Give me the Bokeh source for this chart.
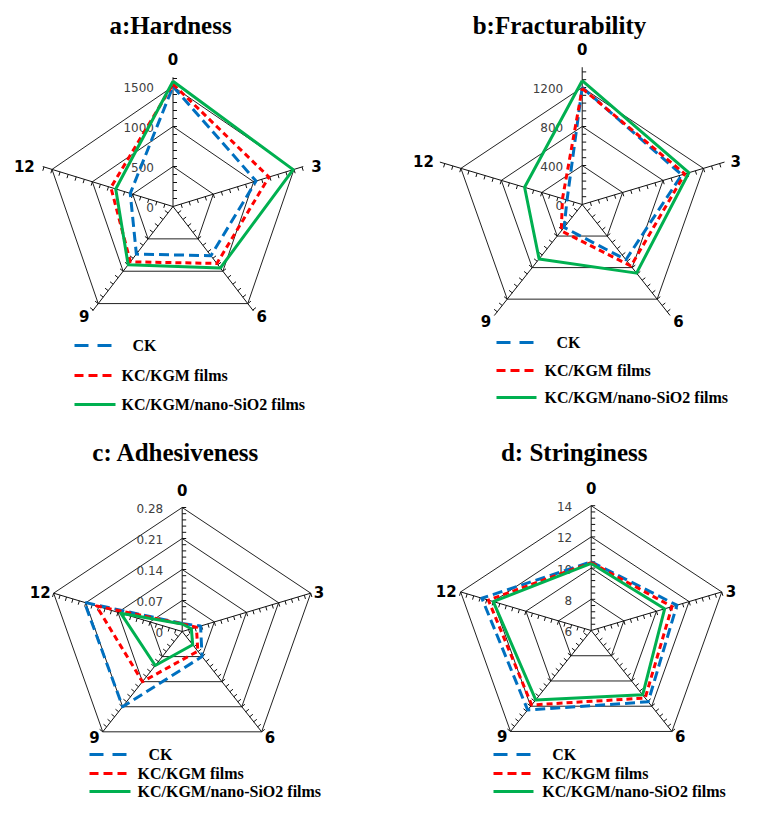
import numpy as np
from bokeh.plotting import figure
from bokeh.models import Range1d
from bokeh.embed import file_html
from bokeh.resources import INLINE
from bokeh.core.properties import value

# ---------------- data ----------------
categories = ["0", "3", "6", "9", "12"]
series_names = ["CK", "KC/KGM films", "KC/KGM/nano-SiO2 films"]

hardness_ck = [1500, 1030, 760, 735, 530]
hardness_kc = [1530, 1190, 880, 855, 770]
hardness_si = [1565, 1490, 950, 900, 710]

fract_ck = [1200, 985, 700, 290, 150]
fract_kc = [1190, 1015, 780, 335, 195]
fract_si = [1270, 1055, 870, 690, 570]

adh_ck = [0.018, 0.040, 0.070, 0.210, 0.213]
adh_kc = [0.017, 0.031, 0.055, 0.140, 0.187]
adh_si = [0.017, 0.020, 0.037, 0.095, 0.134]

str_ck = [10.4, 11.25, 11.65, 12.3, 12.7]
str_kc = [10.35, 10.95, 11.35, 11.9, 12.3]
str_si = [10.3, 10.5, 11.1, 11.5, 12.0]

hardness_ticks = [0, 500, 1000, 1500]
hardness_tick_labels = ["0", "500", "1000", "1500"]
fract_ticks = [0, 400, 800, 1200]
fract_tick_labels = ["0", "400", "800", "1200"]
adh_ticks = [0, 0.07, 0.14, 0.21, 0.28]
adh_tick_labels = ["0", "0.07", "0.14", "0.21", "0.28"]
str_ticks = [6, 8, 10, 12, 14]
str_tick_labels = ["6", "8", "10", "12", "14"]

titles = ["a:Hardness", "b:Fracturability", "c: Adhesiveness", "d: Stringiness"]

# ---------------- styles / layout ----------------
COLORS = ["#0070C0", "#FF0000", "#00B050"]
DASHES = ["10 5", "6 4", "solid"]
LEG_DASHES = ["14 9", "9 5", "solid"]

panels = [
    dict(data=[hardness_ck, hardness_kc, hardness_si], ticks=hardness_ticks,
         labels=hardness_tick_labels, cx=172.5, cy=206, pxu=40 / 500, stretch=1.06,
         vmin=0, vmax=1615, minor=100, title_xy=(170, 25), pad=8,
         leg_y=[345, 375, 404], leg_x=(74, 115), leg_tx=[132, 121, 121]),
    dict(data=[fract_ck, fract_kc, fract_si], ticks=fract_ticks,
         labels=fract_tick_labels, cx=581.7, cy=204, pxu=39 / 400, stretch=1.09,
         vmin=0, vmax=1408, minor=80, title_xy=(559, 25), pad=6,
         leg_y=[342, 370, 397], leg_x=(496, 536), leg_tx=[556, 544, 544]),
    dict(data=[adh_ck, adh_kc, adh_si], ticks=adh_ticks,
         labels=adh_tick_labels, cx=181.7, cy=631, pxu=31 / 0.07, stretch=1.09,
         vmin=0, vmax=0.28, minor=0.014, title_xy=(175.5, 452), pad=3,
         leg_y=[754, 773, 791], leg_x=(89, 130), leg_tx=[148, 137, 137]),
    dict(data=[str_ck, str_kc, str_si], ticks=str_ticks,
         labels=str_tick_labels, cx=590.7, cy=630, pxu=15.6, stretch=1.10,
         vmin=6, vmax=14, minor=0.4, title_xy=(573.7, 452), pad=4,
         leg_y=[754, 773, 791], leg_x=(493, 533), leg_tx=[551.7, 541.7, 541.7]),
]

W, H = 742, 803
p = figure(width=W, height=H, output_backend="svg", toolbar_location=None,
           x_range=Range1d(0, W), y_range=Range1d(H, 0),
           x_axis_location=None, y_axis_location=None, min_border=0)
p.grid.visible = False
p.outline_line_color = None
p.background_fill_color = "white"

N = len(categories)
ang = np.arange(N) * 2 * np.pi / N
DX = np.sin(ang)
DY = -np.cos(ang)
TICK_SIDE = [1, 1, -1, 1, -1]


def to_xy(vals, cfg):
    r = (np.asarray(vals, float) - cfg["vmin"]) * cfg["pxu"]
    return cfg["cx"] + r * DX * cfg["stretch"], cfg["cy"] + r * DY


for i, cfg in enumerate(panels):
    cx, cy = cfg["cx"], cfg["cy"]
    # rings
    for v in cfg["ticks"]:
        if v == cfg["vmin"]:
            continue
        x, y = to_xy([v] * N, cfg)
        p.line(list(x) + [x[0]], list(y) + [y[0]], line_color="#222222", line_width=1)
    # spokes
    ex, ey = to_xy([cfg["vmax"]] * N, cfg)
    p.segment(x0=[cx] * N, y0=[cy] * N, x1=ex, y1=ey, line_color="#111111", line_width=1)
    # minor ticks
    tv = np.arange(cfg["vmin"] + cfg["minor"], cfg["vmax"] + 1e-9, cfg["minor"])
    x0s, y0s, x1s, y1s = [], [], [], []
    for k in range(N):
        dsx, dsy = DX[k] * cfg["stretch"], DY[k]
        nrm = np.hypot(dsx, dsy)
        dsx, dsy = dsx / nrm, dsy / nrm
        px_, py_ = -dsy * TICK_SIDE[k], dsx * TICK_SIDE[k]
        for t in tv:
            r = (t - cfg["vmin"]) * cfg["pxu"]
            bx = cx + r * DX[k] * cfg["stretch"]
            by = cy + r * DY[k]
            x0s.append(bx)
            y0s.append(by)
            x1s.append(bx + 4 * px_)
            y1s.append(by + 4 * py_)
    p.segment(x0=x0s, y0=y0s, x1=x1s, y1=y1s, line_color="#111111", line_width=1)

    # value tick labels
    ty = [cy - (v - cfg["vmin"]) * cfg["pxu"] + 1 for v in cfg["ticks"]]
    p.text(x=[cx - 19] * len(ty), y=ty, text=cfg["labels"], text_align="right",
           text_baseline="middle", text_font=value("DejaVu Sans"),
           text_font_size="12px", text_color="#404040")

    # category labels
    pad = cfg["pad"]
    lx = [ex[0], ex[1] + pad, ex[2] + 3, ex[3] - 3, ex[4] - pad]
    ly = [ey[0] - 18, ey[1] - 1, ey[2] + 5, ey[3] + 5, ey[4] - 1]
    al = ["center", "left", "left", "right", "right"]
    for k in range(N):
        p.text(x=[lx[k]], y=[ly[k]], text=[categories[k]], text_align=al[k],
               text_baseline="middle", text_font=value("DejaVu Sans"),
               text_font_style="bold", text_font_size="15px", text_color="black")

    # series
    for s in range(3):
        x, y = to_xy(cfg["data"][s], cfg)
        p.line(list(x) + [x[0]], list(y) + [y[0]], line_color=COLORS[s], line_width=3,
               line_dash=DASHES[s], line_join="round")

    # title
    p.text(x=[cfg["title_xy"][0]], y=[cfg["title_xy"][1]], text=[titles[i]],
           text_align="center", text_baseline="middle",
           text_font=value("Liberation Serif"), text_font_style="bold",
           text_font_size="25px", text_color="black")

    # legend
    x0, x1 = cfg["leg_x"]
    for s in range(3):
        yy = cfg["leg_y"][s]
        p.segment(x0=[x0], y0=[yy], x1=[x1], y1=[yy], line_color=COLORS[s],
                  line_width=3, line_dash=LEG_DASHES[s])
        p.text(x=[cfg["leg_tx"][s]], y=[yy], text=[series_names[s]], text_align="left",
               text_baseline="middle", text_font=value("Liberation Serif"),
               text_font_style="bold", text_font_size="16px", text_color="black")

open("out.html", "w").write(file_html(p, INLINE))
